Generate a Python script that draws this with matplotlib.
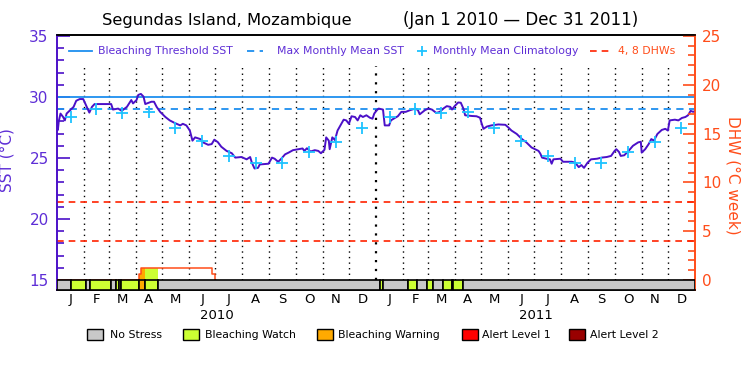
import numpy as np
import matplotlib
matplotlib.use("Agg")
import matplotlib.pyplot as plt
from matplotlib.patches import Rectangle
from matplotlib.ticker import FixedLocator

# daily SST at Segundas Island, x = days since Jan 1 2010
sst_day = [0, 1, 2, 4, 7, 9, 11, 15, 19, 22, 26, 30, 34, 37, 40, 43, 62, 64, 70, 74,
           80, 85, 87, 91, 93, 96, 99, 101, 108, 111, 114, 118, 124, 129, 135, 141, 144, 148, 152, 155,
           158, 164, 167, 173, 177, 180, 184, 188, 194, 200, 204, 211, 217, 221, 223, 226, 230, 232, 242, 246,
           249, 253, 256, 261, 265, 270, 276, 281, 283, 286, 290, 295, 299, 302, 306, 308, 311, 312, 315, 318,
           321, 325, 328, 331, 334, 337, 341, 344, 347, 350, 354, 358, 361, 363, 366, 368, 373, 375, 380, 382,
           387, 390, 394, 399, 404, 410, 413, 415, 421, 425, 429, 434, 438, 442, 446, 450, 452, 455, 459, 462,
           465, 467, 475, 480, 484, 486, 488, 492, 497, 505, 513, 516, 520, 526, 532, 537, 543, 547, 551, 553,
           555, 560, 564, 566, 568, 576, 579, 589, 593, 597, 600, 603, 607, 611, 618, 623, 629, 634, 638, 640,
           643, 645, 649, 654, 659, 665, 668, 669, 673, 677, 680, 683, 687, 692, 696, 699, 701, 707, 711, 715,
           719, 722, 725, 728, 730]
sst_val = [28.1, 27.3, 28.0, 28.64, 28.36, 28.08, 28.64, 28.92, 29.19, 29.69, 29.83, 29.83, 29.19, 28.72, 29.19, 29.42, 29.42, 28.97, 29.05, 28.86,
           29.19, 29.75, 29.47, 29.75, 30.17, 30.25, 30.03, 29.42, 29.61, 29.61, 29.19, 28.78, 28.36, 28.08, 27.86, 27.67, 27.8, 27.67, 27.25, 26.42,
           26.69, 26.55, 26.28, 26.08, 26.14, 26.5, 26.3, 25.92, 25.58, 25.39, 25.03, 25.08, 24.89, 25.08, 24.61, 24.14, 24.19, 24.47, 24.53, 25.03,
           24.94, 24.69, 24.89, 25.3, 25.44, 25.64, 25.72, 25.78, 25.58, 25.8, 25.53, 25.64, 25.58, 25.39, 25.67, 26.69, 26.42, 25.72, 26.69, 26.47,
           27.25, 27.75, 28.14, 28.08, 27.8, 28.42, 28.36, 28.08, 28.5, 28.36, 28.5, 28.3, 28.22, 28.64, 28.92, 29.05, 28.97, 27.67, 27.67, 28.08,
           28.3, 28.42, 28.78, 28.78, 28.92, 29.05, 28.92, 28.58, 28.92, 29.05, 28.97, 28.69, 28.78, 29.05, 29.25, 29.19, 28.97, 29.25, 29.55, 29.53,
           29.05, 28.5, 28.44, 28.42, 28.3, 27.8, 27.39, 27.58, 27.67, 27.75, 27.72, 27.53, 27.25, 26.97, 26.55, 26.28, 25.86, 25.72, 25.58, 25.36,
           25.03, 24.94, 24.89, 24.53, 24.89, 24.94, 24.69, 24.69, 24.61, 24.25, 24.42, 24.19, 24.61, 24.89, 24.94, 25.03, 25.08, 25.17, 25.58, 25.72,
           25.5, 25.17, 25.22, 25.58, 26.0, 26.28, 26.33, 25.44, 25.72, 26.14, 26.55, 26.42, 26.97, 27.3, 27.39, 27.25, 28.08, 28.14, 28.08, 28.28,
           28.36, 28.5, 28.86, 28.78, 28.86]

# monthly mean climatology, Jan..Dec
clim_val = [28.36, 29.0, 28.72, 28.78, 27.47, 26.42, 25.17, 24.61, 24.61, 25.5, 26.33, 27.47]
month_labels = ["J", "F", "M", "A", "M", "J", "J", "A", "S", "O", "N", "D"]
years = ["2010", "2011"]

mmm = 29.0
threshold = 30.0
dhw_levels = [4, 8]

# degree heating weeks (step values)
dhw_day = [0, 94, 96, 177, 181, 730]
dhw_val = [0, 0.64, 1.2, 0.64, 0, 0]

# alert status: segment start day and level (0 none, 1 watch, 2 warning, 3 alert 1, 4 alert 2)
alert_start = [0, 16, 33, 38, 62, 68, 71, 73, 94, 101, 115, 370, 373, 402, 412, 423, 430, 442, 452, 453, 465]
alert_level = [0, 1, 0, 1, 0, 1, 0, 1, 2, 1, 0, 1, 0, 1, 0, 1, 0, 1, 0, 1, 0]

status_names = ["No Stress", "Bleaching Watch", "Bleaching Warning", "Alert Level 1", "Alert Level 2"]
status_colors = ["#c8c8c8", "#ccff33", "#ffaa00", "#ff0000", "#990000"]

purple = "#4b10c8"
purple_txt = "#5e2ed6"
blue = "#1e8fef"
cyan = "#1ec3ff"
red = "#ff2200"
orange = "#ff4d1a"


def dhw_at(d):
    i = np.searchsorted(dhw_day, d, side="right") - 1
    return dhw_val[i]


def main():
    sst_lo, sst_hi = 14.18, 35.08
    total = 730

    months = np.arange("2010-01", "2012-02", dtype="datetime64[M]")
    mstart = (months.astype("datetime64[D]") - np.datetime64("2010-01-01")).astype(int)
    mmid = (mstart[:-1] + mstart[1:]) / 2.0

    fig = plt.figure(figsize=(7.5, 3.75), dpi=100)
    ax = fig.add_axes([57 / 750, 85 / 375, 638 / 750, 255 / 375])
    ax.set_xlim(0, total)
    ax.set_ylim(sst_lo, sst_hi)
    ax2 = ax.twinx()
    ax2.set_ylim((sst_lo - 15) / 0.8, (sst_hi - 15) / 0.8)

    # month grid
    for d in mstart[1:-1]:
        lw = 1.6 if d == 365 else 1.0
        ax.plot([d, d], [15, 32.5], color="black", lw=lw, ls=(0, (1, 3)), zorder=1)

    ax.axhline(threshold, color=blue, lw=1.3, zorder=2)
    ax.axhline(mmm, color=blue, lw=1.3, ls=(0, (4, 3)), zorder=2)
    ax.plot(sst_day, sst_val, color=purple, lw=1.4, zorder=3)
    ax.plot(mmid, clim_val * 2, "+", color=cyan, ms=9, mew=1.3, zorder=4)

    for lev in dhw_levels:
        ax2.axhline(lev, color=red, lw=1.2, ls=(0, (4, 3)))

    # alert bar and coloured area under DHW
    ends = alert_start[1:] + [total]
    for s, e, lev in zip(alert_start, ends, alert_level):
        col = status_colors[lev]
        ax2.add_patch(Rectangle((s, ax2.get_ylim()[0]), e - s, -ax2.get_ylim()[0],
                                facecolor=col, edgecolor="black", lw=1.2, zorder=5))
        if lev > 0:
            xs = [s] + [k for k in dhw_day if s < k < e] + [e]
            ys = [dhw_at(x) for x in xs]
            if max(ys) > 0:
                ax2.fill_between(xs, 0, ys, step="post", color=col, lw=0, zorder=2)
    ax2.step(dhw_day[:5], dhw_val[:5], where="post", color=orange, lw=1.1, zorder=3)

    # axes styling
    for a in (ax, ax2):
        a.spines["left"].set_color(purple)
        a.spines["right"].set_color(orange)
        a.spines["top"].set_color("black")
        a.spines["bottom"].set_color("black")
        for sp in a.spines.values():
            sp.set_linewidth(1.2)

    ax.set_yticks([15, 20, 25, 30, 35])
    ax.yaxis.set_minor_locator(FixedLocator([v for v in range(16, 35) if v % 5]))
    ax.tick_params(axis="y", which="both", direction="in", color=purple, labelcolor=purple_txt,
                   labelsize=11, width=1.2, pad=6)
    ax.tick_params(axis="y", which="major", length=9)
    ax.tick_params(axis="y", which="minor", length=5)

    ax2.set_yticks([0, 5, 10, 15, 20, 25])
    ax2.yaxis.set_minor_locator(FixedLocator([v for v in range(1, 25) if v % 5]))
    ax2.tick_params(axis="y", which="both", direction="in", color=orange, labelcolor=orange,
                    labelsize=11, width=1.2, pad=5)
    ax2.tick_params(axis="y", which="major", length=9)
    ax2.tick_params(axis="y", which="minor", length=5)

    ax.set_xticks(mmid)
    ax.set_xticklabels(month_labels * 2, fontsize=9.5)
    ax.tick_params(axis="x", length=0, pad=2)
    for i, yr in enumerate(years):
        ax.text(mstart[i * 12] + 182.5, -0.075, yr, transform=ax.get_xaxis_transform(),
                ha="center", va="top", fontsize=9.5)

    ax.set_ylabel("SST (°C)", color=purple_txt, fontsize=11)
    ax.yaxis.set_label_coords(-0.066, 0.51)
    ax2.set_ylabel("DHW (°C week)", color=orange, fontsize=11, rotation=270, va="center")
    ax2.yaxis.set_label_coords(1.06, 0.45)

    # legend inside the plot
    ly = 0.937
    ax.plot([0.019, 0.055], [ly, ly], color=blue, lw=1.3, transform=ax.transAxes)
    ax.text(0.064, ly, "Bleaching Threshold SST", color=purple_txt, fontsize=7.8,
            va="center", transform=ax.transAxes)
    ax.plot([0.298, 0.323], [ly, ly], color=blue, lw=1.3, ls=(0, (4, 3)), transform=ax.transAxes)
    ax.text(0.345, ly, "Max Monthly Mean SST", color=purple_txt, fontsize=7.8,
            va="center", transform=ax.transAxes)
    ax.plot([0.572], [ly], "+", color=cyan, ms=7, mew=1.3, transform=ax.transAxes)
    ax.text(0.589, ly, "Monthly Mean Climatology", color=purple_txt, fontsize=7.8,
            va="center", transform=ax.transAxes)
    ax.plot([0.835, 0.870], [ly, ly], color=red, lw=1.2, ls=(0, (4, 3)), transform=ax.transAxes)
    ax.text(0.879, ly, "4, 8 DHWs", color=orange, fontsize=7.8,
            va="center", transform=ax.transAxes)

    # title
    fig.text(227 / 750, 1 - 20 / 375, "Segundas Island, Mozambique", ha="center", va="center", fontsize=11.8)
    fig.text(521 / 750, 1 - 20 / 375, "(Jan 1 2010 — Dec 31 2011)", ha="center", va="center", fontsize=12)

    # status legend
    box_x = [87, 183, 317, 462, 569]
    txt_x = [110, 205, 338, 482, 590]
    for bx, tx, name, col in zip(box_x, txt_x, status_names, status_colors):
        fig.add_artist(Rectangle((bx / 750, 1 - 340 / 375), 16 / 750, 11 / 375, transform=fig.transFigure,
                                 facecolor=col, edgecolor="black", lw=1.0))
        fig.text(tx / 750, 1 - 335 / 375, name, ha="left", va="center", fontsize=7.8)

    fig.savefig("out.png", dpi=100)


if __name__ == "__main__":
    main()
